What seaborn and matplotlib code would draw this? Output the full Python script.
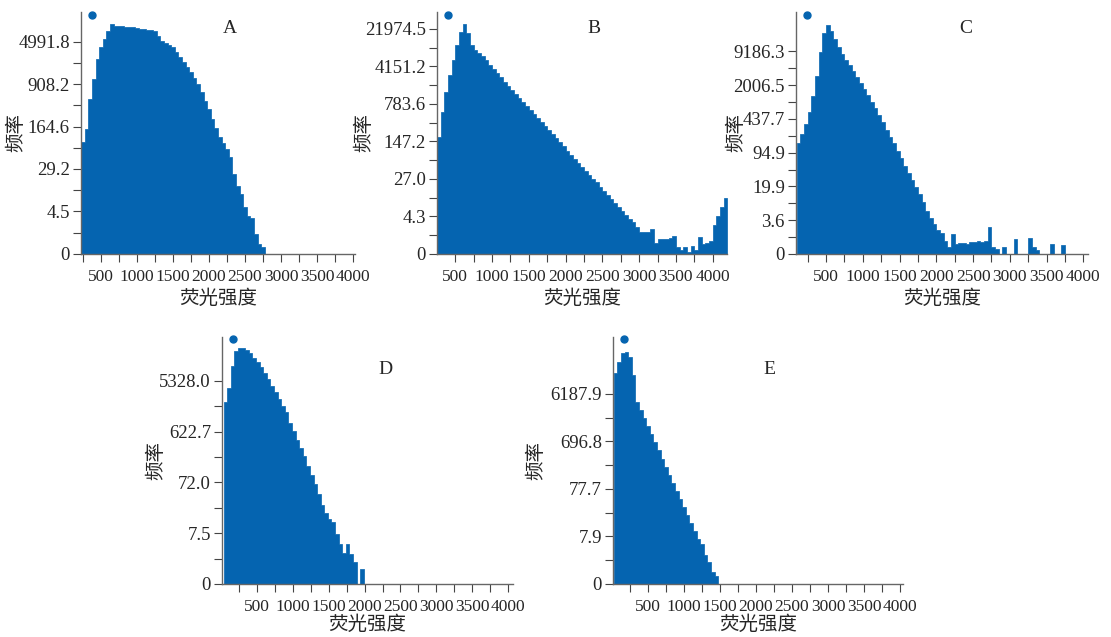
import numpy as np
import pandas as pd
import matplotlib
matplotlib.use("Agg")
import matplotlib.pyplot as plt
from matplotlib.lines import Line2D
from matplotlib.ticker import FixedLocator, MultipleLocator
import seaborn as sns

# frequency per 50-unit fluorescence bin
bin_width = 50

a_start = 225
a_freq = [89, 147, 492, 1096, 2440, 4023, 5431, 7707, 9897, 9320, 9250, 9136, 9050,
          8955, 8800, 8604, 8350, 8102, 7950, 7785, 7480, 6310, 5200, 4675, 4358, 4064,
          3294, 2696, 2208, 1807, 1479, 1152, 897, 664, 468, 329, 220, 155, 109, 85,
          66, 48, 24, 14, 10, 5.7, 3.5, 3.3, 1.2, 0.5, 0.35]

b_start = 250
b_freq = [180, 544, 1338, 2835, 5430, 10940, 18970, 26900, 18040, 10940, 8520, 7480,
          6500, 5430, 4447, 3640, 3040, 2540, 2120, 1770, 1480, 1235, 1030, 862, 720,
          601, 502, 419, 350, 292, 244, 203, 170, 142, 118, 98, 82, 68, 57, 47, 39, 33,
          27, 23, 19, 15.4, 12.7, 10.5, 8.6, 7.0, 5.7, 4.6, 3.7, 3.1, 2.3, 1.7, 1.6,
          1.7, 2.0, 0.65, 0.95, 0.95, 0.95, 1.0, 1.2, 0.35, 0.22, 0.35, 0.1, 0.42, 0.2,
          1.1, 0.57, 0.65, 0.82, 2.7, 4.5, 7.2, 11.2]

c_start = 100
c_freq = [147, 220, 346, 601, 1211, 2980, 8950, 20940, 29700, 23150, 16300, 10940,
          8100, 6310, 4914, 3713, 2863, 2208, 1668, 1261, 952, 705, 517, 372, 269, 195,
          144, 104, 73, 51, 37, 27, 19, 13.9, 9.5, 6.0, 4.0, 2.9, 1.9, 1.6, 0.82, 0.35,
          1.5, 0.57, 0.65, 0.65, 0.57, 0.73, 0.73, 0.82, 0.73, 0.82, 2.3, 0.35, 0.28,
          0, 0.35, 0, 0, 1.0, 0, 0, 0, 1.1, 0.35, 0.22, 0, 0, 0, 0.57, 0, 0, 0.5]

d_start = 40
d_freq = [2208, 4023, 9897, 18970, 21400, 20940, 19550, 17150, 14040, 11850, 9420,
          7330, 5710, 4360, 3294, 2440, 1807, 1407, 897, 632, 445, 313, 220, 147, 98,
          66, 44, 27, 19, 14.6, 12.5, 7.2, 4.5, 2.7, 4.5, 2.5, 1.5, 0, 0.92]

e_start = 25
e_freq = [16300, 26900, 40100, 42600, 32900, 14760, 4270, 2950, 2040, 1407, 972, 671,
          463, 316, 218, 150, 104, 71, 49, 33, 23, 15.3, 10.2, 6.8, 5.4, 2.7, 1.7,
          0.73, 0.42]

# y tick labels printed on each panel
a_ticks = [0, 4.5, 29.2, 164.6, 908.2, 4991.8]
b_ticks = [0, 4.3, 27.0, 147.2, 783.6, 4151.2, 21974.5]
c_ticks = [0, 3.6, 19.9, 94.9, 437.7, 2006.5, 9186.3]
d_ticks = [0, 7.5, 72.0, 622.7, 5328.0]
e_ticks = [0, 7.9, 77.7, 696.8, 6187.9]

# name, data, x limits, y top, axes box (px), letter pos, ylabel x, xlabel pad
panels = [
    ("A", a_start, a_freq, a_ticks, (222, 4028), 16300, [81, 12, 355, 254], (0.545, 0.93), -0.204, 3),
    ("B", b_start, b_freq, b_ticks, (251, 4195), 46600, [437, 12, 727, 254], (0.54, 0.93), -0.221, 3),
    ("C", c_start, c_freq, c_ticks, (92, 4063), 54000, [796, 12, 1088, 254], (0.58, 0.93), -0.175, 3),
    ("D", d_start, d_freq, d_ticks, (17, 4065), 34000, [222, 337, 513, 584], (0.56, 0.87), -0.196, 0),
    ("E", e_start, e_freq, e_ticks, (13, 4042), 84000, [613, 337, 903, 584], (0.54, 0.87), -0.234, 0),
]

blue = "#0564b0"
W, H = 1111, 637

sns.set_theme(style="ticks")
plt.rcParams["font.family"] = ["Liberation Serif", "Noto Sans CJK SC"]
plt.rcParams["axes.unicode_minus"] = False

fig = plt.figure(figsize=(W / 100, H / 100), dpi=100)

for name, start, freq, ticks, xlim, ytop, box, lpos, ylx, xpad in panels:
    l, t, r, b = box
    ax = fig.add_axes([l / W, 1 - b / H, (r - l) / W, (b - t) / H])
    n = len(freq)
    df = pd.DataFrame({"center": start + bin_width * (np.arange(n) + 0.5),
                       "freq": np.asarray(freq, dtype=float)})
    sns.histplot(data=df, x="center", weights="freq", binwidth=bin_width,
                 binrange=(start, start + bin_width * n), ax=ax,
                 color=blue, alpha=1, element="step", fill=True,
                 edgecolor=blue, linewidth=0.5)
    ax.set_yscale("function", functions=(np.log1p, np.expm1))
    ax.set_ylim(0, ytop)
    ax.set_xlim(*xlim)

    ax.yaxis.set_major_locator(FixedLocator(ticks))
    ax.set_yticklabels(["0" if v == 0 else f"{v:.1f}" for v in ticks])
    lt = np.log1p(ticks)
    ax.yaxis.set_minor_locator(FixedLocator(np.expm1((lt[:-1] + lt[1:]) / 2)))
    ax.xaxis.set_major_locator(FixedLocator(np.arange(500, 4001, 500)))
    ax.xaxis.set_minor_locator(MultipleLocator(250))

    ax.tick_params(axis="both", which="both", direction="out", length=6,
                   width=0.8, color="#444444")
    ax.tick_params(axis="y", which="major", labelsize=13.5, pad=2)
    ax.tick_params(axis="x", which="major", labelsize=12.5, pad=5)
    for s in ["top", "right"]:
        ax.spines[s].set_visible(False)
    for s in ["left", "bottom"]:
        ax.spines[s].set_color("#666666")
        ax.spines[s].set_linewidth(1.0)

    ax.set_xlabel("荧光强度", fontsize=14, labelpad=xpad)
    ax.set_ylabel("频率", fontsize=14)
    ax.yaxis.set_label_coords(ylx, 0.5)
    ax.text(lpos[0], lpos[1], name, transform=ax.transAxes, ha="center",
            va="center", fontsize=14)
    dot = Line2D([], [], marker="o", ls="", color=blue, markersize=5)
    ax.legend(handles=[dot], labels=[""], loc="upper left", frameon=False,
              bbox_to_anchor=(0.0, 1.018), borderaxespad=0, borderpad=0.1,
              handletextpad=0, handlelength=1.2)

fig.savefig("out.png", dpi=100)
